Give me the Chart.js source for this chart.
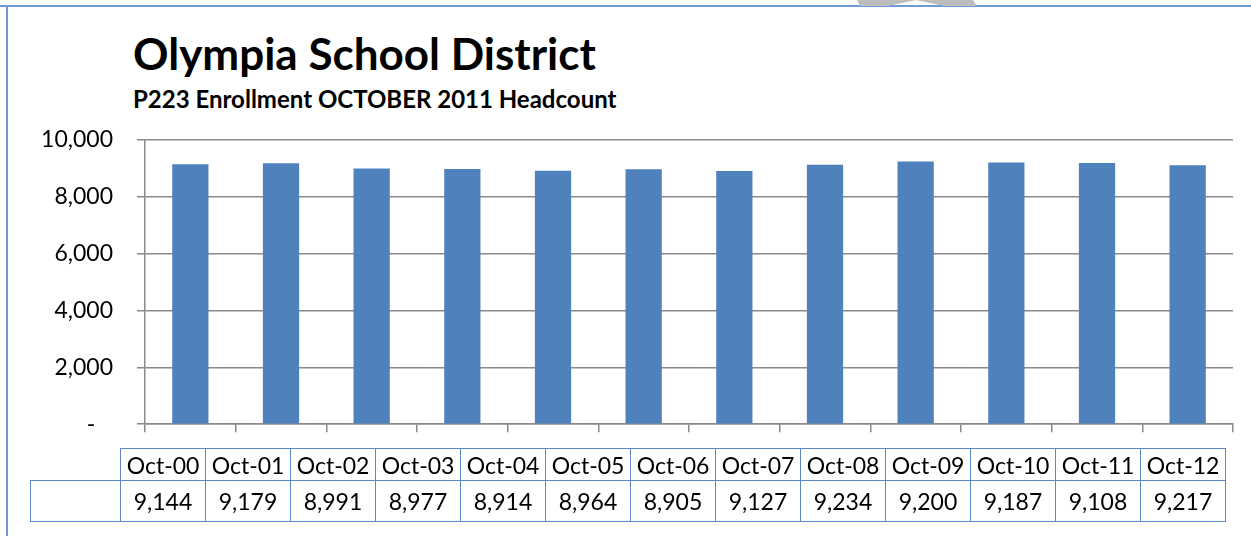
<!DOCTYPE html>
<html>
<head>
<meta charset="utf-8">
<script src="https://cdn.jsdelivr.net/npm/chart.js@4.4.1/dist/chart.umd.min.js"></script>
<style>
  html, body { margin: 0; padding: 0; background: #fff; }
  body { width: 1251px; height: 536px; position: relative; overflow: hidden; font-family: Lato, "Noto Sans", sans-serif; color: #000; }
  .frame-top { position: absolute; left: 0; top: 5px; width: 1251px; height: 2px; background: #6e9bd8; }
  .frame-left { position: absolute; left: 6px; top: 5px; width: 2px; height: 531px; background: #6e9bd8; }
  .mark { position: absolute; left: 857px; top: 0; width: 120px; height: 6px; background: #bdbdbd;
          clip-path: polygon(0 0, 116px 0, 120px 6px, 87px 6px, 59px 0, 31px 6px, 3px 6px); }
  h1 { position: absolute; left: 133px; top: 27px; margin: 0; font-size: 44px; font-weight: 700; line-height: 52px; }
  h2 { position: absolute; left: 133px; top: 85px; margin: 0; font-size: 24px; font-weight: 700; line-height: 28px; }
  #myChart { position: absolute; left: 0; top: 102px; }
  table { position: absolute; left: 30px; top: 448px; border-collapse: collapse; font-size: 23px; }
  td { border: 1.5px solid #5b87c5; padding: 0; text-align: center; width: 84px; }
  tr.head td { height: 31px; }
  tr.vals td { height: 40px; }
  td.blank { width: 89px; }
  td.none { border: none; }
</style>
</head>
<body>
<div class="frame-top"></div>
<div class="frame-left"></div>
<div class="mark"></div>
<h1>Olympia School District</h1>
<h2>P223 Enrollment OCTOBER 2011 Headcount</h2>
<canvas id="myChart" width="1251" height="360"></canvas>
<table id="dataTable"></table>
<script>
const categories = ['Oct-00', 'Oct-01', 'Oct-02', 'Oct-03', 'Oct-04', 'Oct-05', 'Oct-06',
                    'Oct-07', 'Oct-08', 'Oct-09', 'Oct-10', 'Oct-11', 'Oct-12'];
const headcount = [9144, 9179, 8991, 8977, 8914, 8964, 8905, 9127, 9234, 9200, 9187, 9108, 9217];
// the plot only shows the first 12 years, the table lists all 13
const barCount = 12;
const yTickLabels = ['-   ', '2,000', '4,000', '6,000', '8,000', '10,000'];

const fmt = (v) => v.toLocaleString('en-US');

// data table under the chart
const table = document.getElementById('dataTable');
const headRow = table.insertRow();
headRow.className = 'head';
headRow.insertCell().className = 'blank none';
categories.forEach((c) => { headRow.insertCell().textContent = c; });
const valueRow = table.insertRow();
valueRow.className = 'vals';
valueRow.insertCell().className = 'blank';
headcount.forEach((v) => { valueRow.insertCell().textContent = fmt(v); });

const ctx = document.getElementById('myChart');
new Chart(ctx, {
    type: 'bar',
    data: {
        labels: categories.slice(0, barCount),
        datasets: [{
            label: 'Headcount',
            data: headcount.slice(0, barCount),
            backgroundColor: '#4f81bd',
            borderWidth: 0,
            categoryPercentage: 0.4,
            barPercentage: 1
        }]
    },
    options: {
        responsive: false,
        animation: false,
        layout: { padding: { left: 0, right: 18, top: 14, bottom: 12 } },
        plugins: { legend: { display: false }, tooltip: { enabled: false } },
        scales: {
            x: {
                grid: { drawOnChartArea: false, drawTicks: true, tickLength: 8, color: '#8a8a8a', lineWidth: 1.5 },
                border: { color: '#8a8a8a', width: 1.5 },
                ticks: { display: false },
                afterFit: (scale) => { scale.height = 8; }
            },
            y: {
                min: 0,
                max: 10000,
                ticks: {
                    stepSize: 2000,
                    padding: 24,
                    color: '#000',
                    font: { family: 'Lato', size: 23 },
                    callback: (value, index) => yTickLabels[index]
                },
                grid: { color: '#8a8a8a', lineWidth: 1.5, tickLength: 8 },
                border: { color: '#8a8a8a', width: 1.5 },
                afterFit: (scale) => { scale.width = 145; }
            }
        }
    }
});
</script>
</body>
</html>
